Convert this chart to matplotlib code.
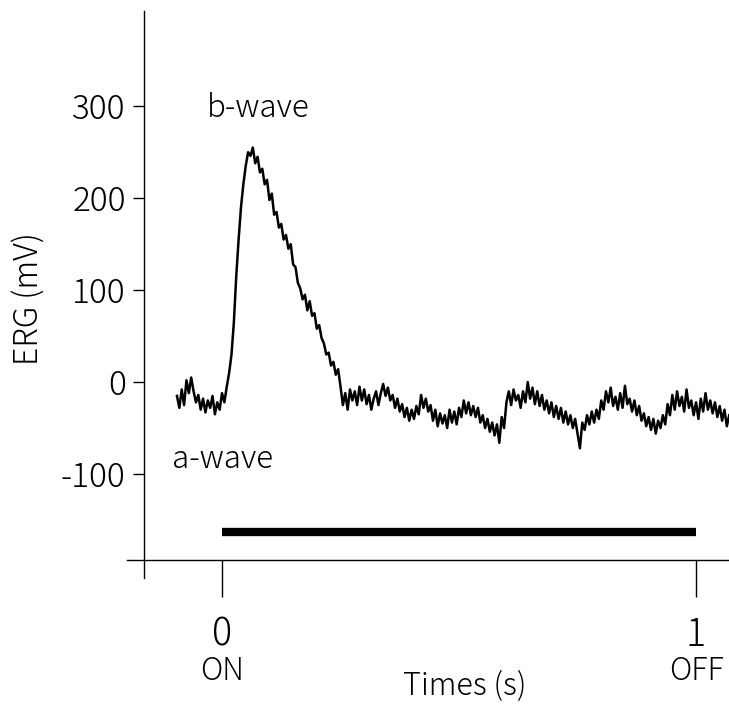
import numpy as np
import matplotlib
matplotlib.use("Agg")
import matplotlib.pyplot as plt

plt.rcParams['font.family'] = ['Noto Sans CJK JP', 'DejaVu Sans']
plt.rcParams['font.weight'] = 'light'
plt.rcParams['axes.labelweight'] = 'light'

t_start = -0.095
t_end = 1.070
erg = [
    # -0.095 .. -0.010
    -15, -28, -8, -25, 2, -12, 5, -10, -22, -14, -30, -18, -33, -20, -28, -15, -35, -22,
    # -0.005 .. 0.285 (b-wave)
    -30, -12, -22, -5, 10, 30, 65, 115, 155, 190, 215, 235, 250, 246, 255, 238, 245, 228,
    232, 215, 220, 198, 205, 182, 185, 168, 172, 155, 160, 145, 150, 128, 125, 108, 102,
    90, 95, 78, 88, 72, 75, 58, 62, 48, 42, 30, 32, 18, 22, 8, 14, -5, -25, -12, -30, -8,
    -20, -10, -25,
    # 0.290 .. 1.070
    -5, -20, -8, -24, -14, -30, -18, -10, -25, -12,
    -2, -15, -6, -20, -14, -28, -18, -32, -24, -38,
    -28, -42, -30, -40, -26, -35, -14, -28, -18, -32,
    -25, -42, -30, -48, -34, -45, -36, -50, -30, -44,
    -32, -46, -28, -38, -20, -34, -22, -36, -26, -38,
    -28, -44, -36, -50, -40, -54, -44, -58, -46, -66,
    -38, -50, -22, -10, -25, -8, -20, -14, -28, -10,
    -22, 0, -18, -6, -24, -10, -26, -14, -30, -20,
    -34, -22, -38, -26, -40, -28, -44, -32, -46, -36,
    -50, -40, -56, -72, -44, -52, -36, -46, -32, -44,
    -30, -40, -20, -30, -10, -22, -6, -26, -16, -30,
    -12, -28, -4, -24, -18, -32, -20, -36, -26, -42,
    -34, -48, -38, -52, -40, -56, -42, -50, -36, -46,
    -24, -36, -14, -30, -10, -26, -16, -32, -8, -28,
    -20, -36, -22, -40, -18, -32, -12, -30, -20, -34,
    -22, -38, -26, -42, -30, -48, -36,
]
times = np.linspace(t_start, t_end, len(erg))

# light stimulus bar
stim_on = 0
stim_off = 1
stim_level = -163

yticks = [-100, 0, 100, 200, 300]
xticks = [0, 1]
xtick_labels = ['0', '1']

fig = plt.figure(figsize=(7.29, 7.04), dpi=100)
ax = fig.add_axes([0.1745, 0.179, 0.8258, 0.806])

ax.plot(times, erg, color='black', lw=1.8)
ax.plot([stim_on, stim_off], [stim_level, stim_level], color='black', lw=6,
        solid_capstyle='butt')

ax.set_xlim(-0.2, 1.07)
ax.set_ylim(-213, 404)

for s in ['top', 'right']:
    ax.spines[s].set_visible(False)
ax.spines['left'].set_position(('data', -0.165))
ax.spines['bottom'].set_position(('data', -193.5))
ax.spines['left'].set_linewidth(1.0)
ax.spines['bottom'].set_linewidth(1.0)

ax.set_yticks(yticks)
ax.set_yticklabels([str(v) for v in yticks])
ax.tick_params(axis='y', direction='out', length=8, width=1, pad=5, labelsize=24)
ax.set_xticks(xticks)
ax.set_xticklabels(xtick_labels)
ax.tick_params(axis='x', direction='out', length=26.6, width=1, pad=13, labelsize=27)

ax.text(stim_on, -0.1796, 'ON', transform=ax.get_xaxis_transform(), ha='center',
        va='baseline', fontsize=22)
ax.text(stim_off, -0.1796, 'OFF', transform=ax.get_xaxis_transform(), ha='center',
        va='baseline', fontsize=22)

ax.set_xlabel('Times (s)', fontsize=22, fontweight='light')
ax.xaxis.label.set_va('baseline')
ax.xaxis.set_label_coords(0.561, -0.206)

ax.set_ylabel('ERG (mV)', fontsize=23, fontweight='light')
ax.yaxis.label.set_va('center')
ax.yaxis.set_label_coords(-0.163, 0.493)

ax.text(-0.032, 288, 'b-wave', ha='left', va='baseline', fontsize=22.5)
ax.text(-0.105, -93.5, 'a-wave', ha='left', va='baseline', fontsize=22.5)

fig.savefig('out.png', dpi=100)
